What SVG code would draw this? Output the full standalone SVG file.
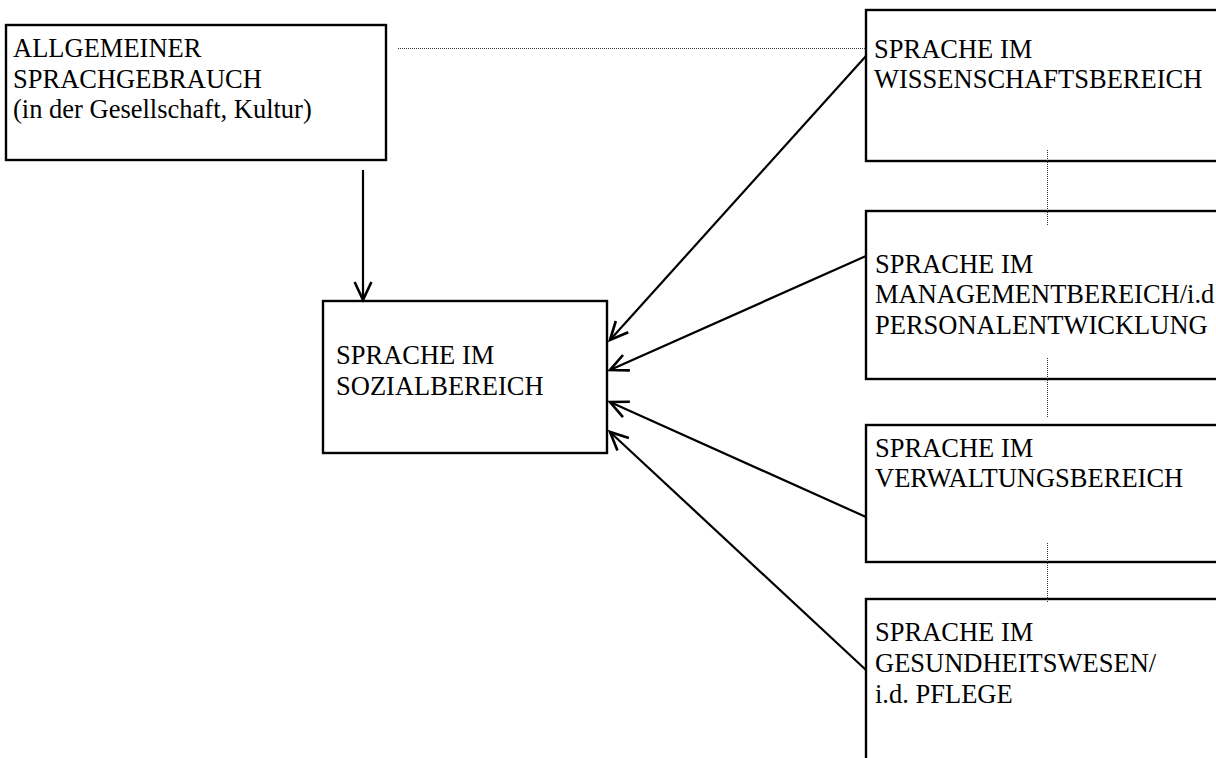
<svg xmlns="http://www.w3.org/2000/svg" width="1216" height="758" viewBox="0 0 1216 758">
  <style>
    .box { fill: #ffffff; stroke: #000000; stroke-width: 2.4; }
    .lbl { font-family: "Liberation Serif", "Times New Roman", serif; font-size: 26.5px; fill: #000000; }
    .arrow { fill: none; stroke: #000000; stroke-width: 2.2; }
    .dot { fill: none; stroke: #333333; stroke-width: 1; stroke-dasharray: 1 1; }
  </style>
  <defs>
    <marker id="head" markerUnits="userSpaceOnUse" markerWidth="24" markerHeight="24" viewBox="-2 -10 20 20" refX="15" refY="0" orient="auto" overflow="visible">
      <path d="M0,-7 L15,0 L0,7" fill="none" stroke="#000000" stroke-width="2.2"/>
    </marker>
  </defs>
  <rect width="1216" height="758" fill="#ffffff"/>

  <g id="node-allgemein">
    <rect class="box" x="6" y="25" width="380" height="135"/>
    <text class="lbl" x="13" y="57">ALLGEMEINER</text>
    <text class="lbl" x="13" y="88">SPRACHGEBRAUCH</text>
    <text class="lbl" x="13" y="118">(in der Gesellschaft, Kultur)</text>
  </g>

  <g id="node-sozial">
    <rect class="box" x="323" y="301" width="284" height="152"/>
    <text class="lbl" x="336" y="364">SPRACHE IM</text>
    <text class="lbl" x="336" y="395">SOZIALBEREICH</text>
  </g>

  <g id="node-wissenschaft">
    <rect class="box" x="866" y="10" width="400" height="151"/>
    <text class="lbl" x="874" y="58">SPRACHE IM</text>
    <text class="lbl" x="874" y="88">WISSENSCHAFTSBEREICH</text>
  </g>

  <g id="node-management">
    <rect class="box" x="866" y="211" width="400" height="168"/>
    <text class="lbl" x="875" y="273">SPRACHE IM</text>
    <text class="lbl" x="875" y="303">MANAGEMENTBEREICH/i.d</text>
    <text class="lbl" x="875" y="334">PERSONALENTWICKLUNG</text>
  </g>

  <g id="node-verwaltung">
    <rect class="box" x="866" y="425" width="400" height="137"/>
    <text class="lbl" x="875" y="457">SPRACHE IM</text>
    <text class="lbl" x="875" y="487">VERWALTUNGSBEREICH</text>
  </g>

  <g id="node-gesundheit">
    <rect class="box" x="866" y="599" width="400" height="200"/>
    <text class="lbl" x="875" y="641">SPRACHE IM</text>
    <text class="lbl" x="875" y="672">GESUNDHEITSWESEN/</text>
    <text class="lbl" x="875" y="703">i.d. PFLEGE</text>
  </g>

  <g id="connectors">
    <line class="dot" x1="398" y1="48.5" x2="866" y2="48.5"/>
    <line class="dot" x1="1047.5" y1="150" x2="1047.5" y2="225"/>
    <line class="dot" x1="1047.5" y1="358" x2="1047.5" y2="418"/>
    <line class="dot" x1="1047.5" y1="543" x2="1047.5" y2="603"/>
    <line class="arrow" x1="363" y1="170" x2="363" y2="300" marker-end="url(#head)"/>
    <line class="arrow" x1="866" y1="56" x2="610" y2="340" marker-end="url(#head)"/>
    <line class="arrow" x1="866" y1="256" x2="610" y2="370" marker-end="url(#head)"/>
    <line class="arrow" x1="866" y1="517" x2="610" y2="402" marker-end="url(#head)"/>
    <line class="arrow" x1="866" y1="670" x2="610" y2="432" marker-end="url(#head)"/>
  </g>
</svg>
